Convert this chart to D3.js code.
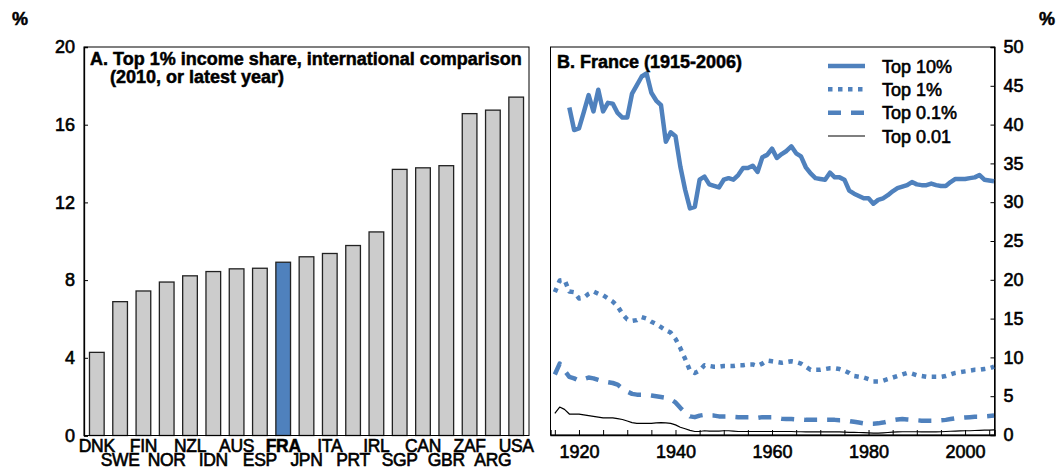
<!DOCTYPE html>
<html>
<head>
<meta charset="utf-8">
<script src="https://cdn.jsdelivr.net/npm/d3@7/dist/d3.min.js"></script>
<style>
  html, body { margin: 0; padding: 0; background: #fff; }
  svg { display: block; font-family: "Liberation Sans", Arial, sans-serif; }
  svg text { stroke: #000; stroke-width: 0.6px; fill: #000; }
  svg text.bold { stroke-width: 0.5px; }
</style>
</head>
<body>
<svg id="chart" width="1062" height="469"></svg>
<script>
// ---------- Panel A data ----------
const countries = ["DNK","SWE","FIN","NOR","NZL","IDN","AUS","ESP","FRA","JPN","ITA","PRT","IRL","SGP","CAN","GBR","ZAF","ARG","USA"];
const top1Share2010 = [4.28, 6.89, 7.44, 7.90, 8.22, 8.44, 8.58, 8.61, 8.92, 9.20, 9.37, 9.78, 10.48, 13.70, 13.78, 13.89, 16.57, 16.75, 17.42];
const highlightCountry = "FRA";
const yTicksA = [0, 4, 8, 12, 16, 20];

// ---------- Panel B data (France, 1915-2006) ----------
const years = d3.range(1915, 2007);
const top10 = [null, null, null,
  42.2, 39.3, 39.5, 41.6, 43.8, 41.7, 44.5, 41.7, 42.8, 42.7,
  41.5, 40.9, 40.9, 44.0, 45.1, 46.2, 46.6, 44.1, 43.1, 42.5,
  37.8, 39.0, 38.5, 34.6, 31.6, 29.2, 29.4, 32.9, 33.3, 32.3,
  32.1, 31.9, 32.9, 33.1, 32.9, 33.5, 34.4, 34.4, 34.7, 33.9,
  35.8, 36.1, 36.9, 35.7, 36.2, 36.6, 37.2, 36.3, 35.9, 34.5,
  33.7, 33.1, 33.0, 32.9, 33.8, 33.2, 33.2, 32.9, 31.5, 31.1,
  30.8, 30.5, 30.5, 29.8, 30.3, 30.5, 30.9, 31.4, 31.8, 32.0,
  32.2, 32.6, 32.3, 32.2, 32.2, 32.4, 32.2, 32.1, 32.1, 32.6,
  33.0, 33.0, 33.0, 33.1, 33.2, 33.5, 32.9, 32.8, 32.7];
const top1 = [
  18.4, 19.9, 20.0, 18.5, 18.4, 17.6, 17.7, 18.2, 18.5, 18.2,
  18.0, 17.6, 17.2, 16.6, 15.6, 14.9, 14.7, 14.8, 15.2, 15.0,
  14.6, 14.3, 13.9, 13.5, 13.2, 12.4, 11.2, 9.8, 8.3, 8.0,
  8.3, 9.0, 8.9, 8.8, 8.8, 8.9, 8.9, 8.9, 9.0, 9.0,
  9.1, 9.1, 8.9, 9.2, 9.6, 9.5, 9.4, 9.3, 9.4, 9.5,
  9.4, 9.2, 8.8, 8.4, 8.4, 8.4, 8.5, 8.6, 8.6, 8.5,
  8.3, 8.0, 7.6, 7.5, 7.4, 7.2, 6.9, 6.9, 7.0, 7.2,
  7.4, 7.6, 7.8, 8.0, 7.9, 7.7, 7.6, 7.5, 7.5, 7.5,
  7.5, 7.6, 7.8, 8.0, 8.1, 8.2, 8.3, 8.4, 8.4, 8.5,
  8.6, 8.8];
const top01 = [
  7.8, 9.2, 8.3, 7.5, 7.3, 7.0, 7.2, 7.4, 7.3, 7.1,
  6.9, 6.8, 6.7, 6.5, 6.0, 5.6, 5.3, 5.2, 5.2, 5.2,
  5.1, 5.0, 4.9, 4.8, 4.6, 4.2, 3.5, 2.9, 2.4, 2.3,
  2.5, 2.6, 2.5, 2.5, 2.4, 2.4, 2.4, 2.35, 2.3, 2.3,
  2.3, 2.3, 2.2, 2.3, 2.3, 2.3, 2.2, 2.1, 2.05, 2.05,
  2.0, 2.0, 1.95, 1.95, 1.95, 1.95, 1.95, 1.95, 1.95, 1.9,
  1.9, 1.8, 1.7, 1.6, 1.5, 1.45, 1.45, 1.5, 1.6, 1.75,
  1.9, 2.0, 2.05, 2.0, 1.95, 1.9, 1.85, 1.85, 1.85, 1.85,
  1.9, 1.95, 2.05, 2.15, 2.2, 2.25, 2.3, 2.35, 2.35, 2.4,
  2.45, 2.5];
const top001 = [
  2.8, 3.6, 3.3, 2.7, 2.7, 2.7, 2.6, 2.5, 2.4, 2.3,
  2.2, 2.2, 2.2, 2.1, 2.0, 1.8, 1.6, 1.5, 1.5, 1.5,
  1.5, 1.55, 1.6, 1.55, 1.5, 1.3, 1.0, 0.8, 0.6, 0.45,
  0.45, 0.55, 0.5, 0.5, 0.5, 0.55, 0.55, 0.5, 0.45, 0.45,
  0.45, 0.45, 0.45, 0.45, 0.45, 0.45, 0.45, 0.45, 0.45, 0.45,
  0.42, 0.42, 0.4, 0.4, 0.4, 0.4, 0.4, 0.42, 0.4, 0.4,
  0.38, 0.35, 0.33, 0.32, 0.3, 0.28, 0.25, 0.25, 0.28, 0.32,
  0.36, 0.4, 0.42, 0.42, 0.42, 0.42, 0.4, 0.4, 0.4, 0.4,
  0.42, 0.45, 0.48, 0.5, 0.52, 0.55, 0.55, 0.58, 0.6, 0.62,
  0.64, 0.66];
const seriesNames = ["Top 10%", "Top 1%", "Top 0.1%", "Top 0.01"];
const yTicksB = [0, 5, 10, 15, 20, 25, 30, 35, 40, 45, 50];
const xTickLabelsB = [1920, 1940, 1960, 1980, 2000];
const xMinorTicksB = d3.range(1915, 2006, 5);

// ---------- styles ----------
const BLUE = "#4F81BD";
const GREY = "#CCCCCC";
const FONT = 18;

const svg = d3.select("#chart");

// ================= Panel A =================
const A = { left: 84, right: 529, top: 47, bottom: 435.5 };
const xA = d3.scaleBand().domain(countries).range([A.left, A.right]).paddingInner(0.37).paddingOuter(0.235);
const yA = d3.scaleLinear().domain([0, 20]).range([A.bottom, A.top]);

const gA = svg.append("g");
gA.selectAll("rect.bar").data(countries).join("rect")
  .attr("class", "bar")
  .attr("x", d => xA(d))
  .attr("y", (d, i) => yA(top1Share2010[i]))
  .attr("width", xA.bandwidth())
  .attr("height", (d, i) => yA(0) - yA(top1Share2010[i]))
  .attr("fill", d => d === highlightCountry ? BLUE : GREY)
  .attr("stroke", "#222")
  .attr("stroke-width", 1.3);

// frame
gA.append("rect").attr("x", A.left).attr("y", A.top)
  .attr("width", A.right - A.left).attr("height", A.bottom - A.top)
  .attr("fill", "none").attr("stroke", "#000").attr("stroke-width", 1);

// y axis (ticks inward)
const axA = gA.append("g").attr("transform", `translate(${A.left},0)`)
  .call(d3.axisRight(yA).tickValues(yTicksA).tickSize(4).tickFormat(d3.format("d")));
axA.select(".domain").attr("stroke", "#000").attr("stroke-width", 1.3);
axA.selectAll("text").attr("x", -9).attr("text-anchor", "end")
  .attr("font-size", FONT).attr("font-family", "Liberation Sans, Arial, sans-serif").attr("fill", "#000");

// category labels (two staggered rows)
const axAx = gA.append("g").attr("transform", `translate(0,${A.bottom})`)
  .call(d3.axisBottom(xA).tickSize(0));
axAx.select(".domain").remove();
axAx.selectAll("text")
  .attr("y", (d, i) => i % 2 === 0 ? 16 : 30)
  .attr("dy", 0)
  .attr("font-size", 17.5)
  .attr("font-family", "Liberation Sans, Arial, sans-serif")
  .attr("font-weight", d => d === highlightCountry ? "bold" : "normal")
  .attr("class", d => d === highlightCountry ? "bold" : null)
  .attr("letter-spacing", -0.3)
  .attr("fill", "#000");

svg.append("text").attr("class", "bold").attr("x", 90).attr("y", 65).attr("font-size", FONT).attr("font-weight", "bold")
  .text("A. Top 1% income share, international comparison");
svg.append("text").attr("class", "bold").attr("x", 110).attr("y", 83).attr("font-size", FONT).attr("font-weight", "bold")
  .text("(2010, or latest year)");
svg.append("text").attr("class", "bold").attr("x", 12).attr("y", 25).attr("font-size", FONT).attr("font-weight", "bold").text("%");

// ================= Panel B =================
const B = { left: 550.5, right: 994.5, top: 47, bottom: 435 };
const xB = d3.scaleLinear().domain([1914.1, 2006.1]).range([B.left, B.right]);
const yB = d3.scaleLinear().domain([0, 50]).range([B.bottom, B.top]);

const gB = svg.append("g");
gB.append("rect").attr("x", B.left).attr("y", B.top)
  .attr("width", B.right - B.left).attr("height", B.bottom - B.top)
  .attr("fill", "none").attr("stroke", "#000").attr("stroke-width", 1);

const axBy = gB.append("g").attr("transform", `translate(${B.right},0)`)
  .call(d3.axisLeft(yB).tickValues(yTicksB).tickSize(4));
axBy.select(".domain").attr("stroke", "#000").attr("stroke-width", 1.3);
axBy.selectAll("text").attr("x", 9).attr("text-anchor", "start")
  .attr("font-size", FONT).attr("font-family", "Liberation Sans, Arial, sans-serif").attr("fill", "#000");

const axBx = gB.append("g").attr("transform", `translate(0,${B.bottom})`)
  .call(d3.axisTop(xB).tickValues(xMinorTicksB).tickSize(5).tickFormat(""));
axBx.select(".domain").attr("stroke", "#000").attr("stroke-width", 1.3);
const axBxl = gB.append("g").attr("transform", `translate(0,${B.bottom})`)
  .call(d3.axisBottom(xB).tickValues(xTickLabelsB).tickSize(0).tickFormat(d3.format("d")));
axBxl.select(".domain").remove();
axBxl.selectAll("text").attr("y", 23).attr("dy", 0)
  .attr("font-size", FONT).attr("font-family", "Liberation Sans, Arial, sans-serif").attr("fill", "#000");

const seriesData = [top10, top1, top01, top001];
const seriesStyle = [
  { stroke: BLUE, width: 4.5, dash: null },
  { stroke: BLUE, width: 4.5, dash: "4.5,5.5" },
  { stroke: BLUE, width: 4.5, dash: "13,10" },
  { stroke: "#000", width: 1.2, dash: null }
];
const line = d3.line()
  .defined(d => d.v !== null)
  .x(d => xB(d.year)).y(d => yB(d.v));

seriesData.forEach((vals, k) => {
  const pts = years.map((y, i) => ({ year: y, v: vals[i] }));
  gB.append("path").datum(pts)
    .attr("d", line)
    .attr("fill", "none")
    .attr("stroke", seriesStyle[k].stroke)
    .attr("stroke-width", seriesStyle[k].width)
    .attr("stroke-dasharray", seriesStyle[k].dash)
    .attr("stroke-linejoin", "round");
});

// legend
const legY = d3.scalePoint().domain(seriesNames).range([66, 136]);
const leg = gB.append("g");
seriesNames.forEach((name, k) => {
  leg.append("line").attr("x1", 828).attr("x2", 865)
    .attr("y1", legY(name)).attr("y2", legY(name))
    .attr("stroke", seriesStyle[k].stroke)
    .attr("stroke-width", seriesStyle[k].width)
    .attr("stroke-dasharray", seriesStyle[k].dash);
  leg.append("text").attr("x", 882).attr("y", legY(name) + 6.5)
    .attr("font-size", FONT).text(name);
});

svg.append("text").attr("class", "bold").attr("x", 557).attr("y", 68).attr("font-size", FONT).attr("font-weight", "bold")
  .text("B. France (1915-2006)");
svg.append("text").attr("class", "bold").attr("x", 1039).attr("y", 25).attr("font-size", FONT).attr("font-weight", "bold").text("%");
</script>
</body>
</html>
